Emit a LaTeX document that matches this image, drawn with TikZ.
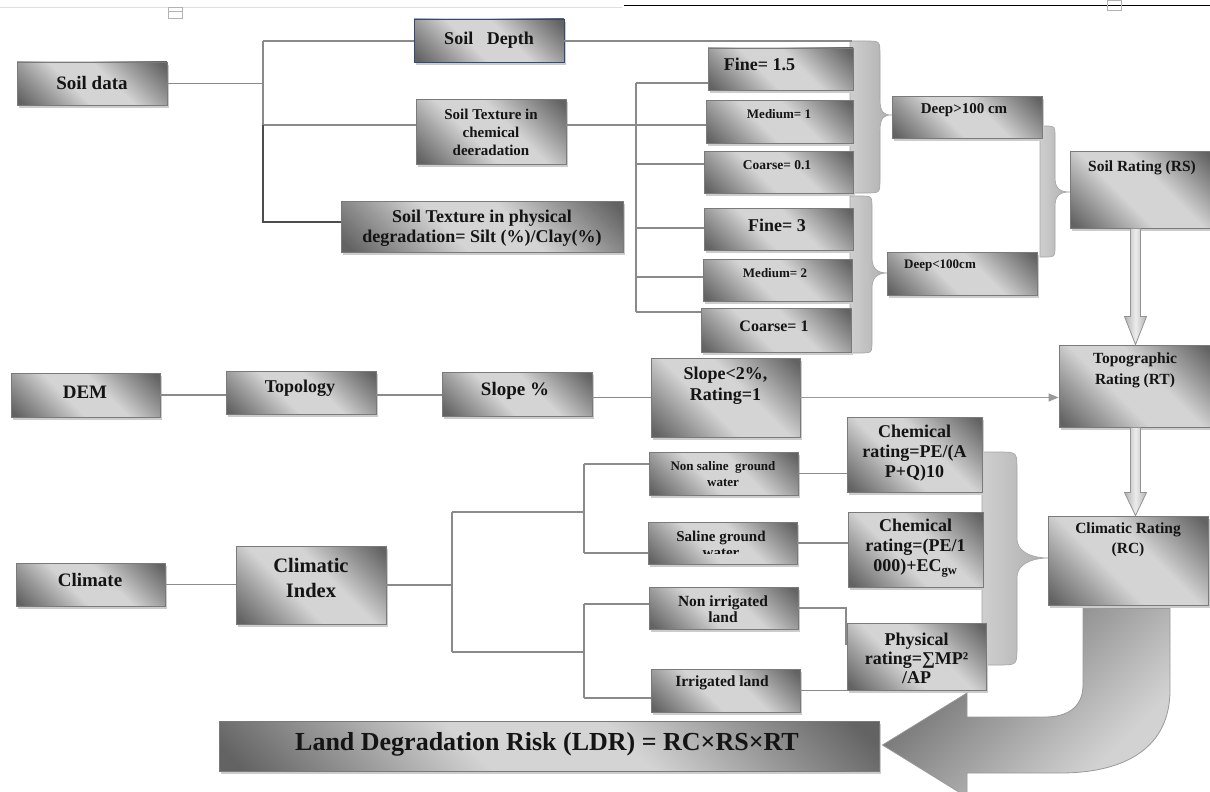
\documentclass[tikz,border=0pt]{standalone}
\usepackage{fontspec}
\setmainfont{Liberation Serif}
\usetikzlibrary{calc,shadows,arrows.meta}
\definecolor{gdark}{HTML}{636363}
\definecolor{gmid}{HTML}{9C9C9C}
\definecolor{glight}{HTML}{D4D4D4}
\definecolor{bgray}{HTML}{7A7A7A}
\definecolor{lgray}{HTML}{8A8A8A}
\definecolor{navyb}{HTML}{2E4A78}
\definecolor{blight}{HTML}{D2D2D2}
\definecolor{bdark}{HTML}{6A6A6A}
\pgfdeclareverticalshading{boxshade}{100bp}{color(0bp)=(gdark); color(17bp)=(gdark); color(30bp)=(gmid); color(42bp)=(glight); color(58bp)=(glight); color(70bp)=(gmid); color(83bp)=(gdark); color(100bp)=(gdark)}
\pgfdeclareverticalshading{bigsh}{100bp}{color(0bp)=(blight); color(30bp)=(blight); color(72bp)=(bdark); color(100bp)=(bdark)}
\newcommand\fz[2]{\fontsize{#1}{#2}\selectfont\bfseries}
\newcommand\bracepath[8]{(#1,#4) -- ({#2-#7},#4) .. controls (#2,#4) .. (#2,{#4+#7}) -- (#2,{#5-#8}) .. controls (#2,{#5-2}) and ({#3-8},#5) .. (#3,#5) .. controls ({#3-8},#5) and (#2,{#5+2}) .. (#2,{#5+#8}) -- (#2,{#6-#7}) .. controls (#2,#6) .. ({#2-#7},#6) -- (#1,#6) -- cycle}
\begin{document}
\begin{tikzpicture}[x=1pt,y=-1pt,
 bx/.style={draw=bgray, line width=0.9pt, shade, shading=boxshade, shading angle=-45, inner sep=0pt, drop shadow={shadow xshift=2pt, shadow yshift=-3pt, fill=black!20, opacity=1}},
 tx/.style={align=center, inner sep=0pt, text=black!92},
 ln/.style={draw=lgray, line width=1.1pt},
 dln/.style={draw=black!70, line width=1.1pt},
 brc/.style={draw=gray!72, line width=0.6pt, left color=gray!38, right color=gray!64},
 barrow/.style={draw=gray!85, line width=0.8pt, left color=gray!60, right color=gray!60, middle color=gray!15},
]
\useasboundingbox (0,0) rectangle (1210,792);
% page artefacts
\draw[gray!25, line width=0.8pt] (0,7) -- (622,7);
\draw[black, line width=0.9pt] (624,5) -- (1210,5);
\draw[gray!60, line width=0.6pt] (168,7) rectangle (182,18);
\draw[gray!60, line width=0.6pt] (168,11) -- (182,11);
\draw[gray!60, line width=0.6pt] (1107,0) rectangle (1121,10);

% braces
\draw[brc] \bracepath{850}{880}{892}{41}{115}{193}{14}{16};
\draw[brc] \bracepath{850}{872}{888}{196}{273}{353}{12}{15};
\draw[brc] \bracepath{1040}{1055}{1070}{126}{192}{257}{10}{14};
\draw[brc] \bracepath{982}{1017}{1048}{452}{558}{665}{18}{20};

% boxes
\node[bx, minimum width=150pt, minimum height=43pt] (sdata) at (92,83.5) {};
\node[bx, draw=navyb, minimum width=150pt, minimum height=43pt] (sdepth) at (489,40.5) {};
\node[bx, minimum width=150pt, minimum height=65pt] (schem) at (491,131.5) {};
\node[bx, minimum width=282pt, minimum height=51pt] (sphys) at (482,226.5) {};
\node[bx, minimum width=145pt, minimum height=42pt] (f15) at (780.5,69) {};
\node[bx, minimum width=147pt, minimum height=43pt] (m1) at (779.5,121.5) {};
\node[bx, minimum width=149pt, minimum height=42pt] (c01) at (778.5,172) {};
\node[bx, minimum width=149pt, minimum height=42pt] (f3) at (778.5,229) {};
\node[bx, minimum width=149pt, minimum height=42pt] (m2) at (777.5,280) {};
\node[bx, minimum width=150pt, minimum height=44pt] (c1) at (776,330) {};
\node[bx, minimum width=150pt, minimum height=42pt] (d100) at (967,117) {};
\node[bx, minimum width=150pt, minimum height=43pt] (dl100) at (962,273.5) {};
\node[bx, minimum width=142pt, minimum height=77pt] (rs) at (1141,189.5) {};
\node[bx, minimum width=149pt, minimum height=44pt] (dem) at (85.5,395) {};
\node[bx, minimum width=150pt, minimum height=43pt] (topo) at (301,392.5) {};
\node[bx, minimum width=150pt, minimum height=44pt] (slope) at (517,394) {};
\node[bx, minimum width=149pt, minimum height=79pt] (s2) at (725.5,397.5) {};
\node[bx, minimum width=153pt, minimum height=82pt] (rt) at (1135.5,386) {};
\node[bx, minimum width=149pt, minimum height=43pt] (climate) at (90.5,584.5) {};
\node[bx, minimum width=150pt, minimum height=78pt] (cindex) at (311,585) {};
\node[bx, minimum width=149pt, minimum height=43pt] (nsal) at (723.5,473.5) {};
\node[bx, minimum width=149pt, minimum height=42pt] (sal) at (722.5,543) {};
\node[bx, minimum width=149pt, minimum height=42pt] (nirr) at (723.5,608) {};
\node[bx, minimum width=149pt, minimum height=43pt] (irr) at (725.5,690.5) {};
\node[bx, minimum width=135pt, minimum height=75pt] (chem1) at (914.5,454.5) {};
\node[bx, minimum width=135pt, minimum height=75pt] (chem2) at (915.5,549.5) {};
\node[bx, minimum width=139pt, minimum height=67pt] (phys) at (916.5,656.5) {};
\node[bx, minimum width=160pt, minimum height=89pt] (rc) at (1128,560.5) {};
\node[bx, minimum width=660pt, minimum height=50pt] (ldr) at (549,746) {};

% junction coordinates
\coordinate (j1) at (263,41);
\coordinate (j2) at (263,125);
\coordinate (j3) at (263,222);
\coordinate (bt1) at (852,41);
\coordinate (k1) at (636,83);
\coordinate (k3) at (636,164);
\coordinate (k4) at (636,228);
\coordinate (k5) at (636,277);
\coordinate (k6) at (636,312);
\coordinate (c1a) at (452,512);
\coordinate (c1b) at (452,652);
\coordinate (c2a) at (584,464);
\coordinate (c2b) at (584,553);
\coordinate (c2c) at (584,604);
\coordinate (c2d) at (584,698);
\coordinate (p1) at (846,645);

% soil connectors
\draw[ln] (sdata.east) -- (sdata.east -| j1);
\draw[ln] (j1) -- (j2);
\draw[ln] (j1) -- (j1 -| sdepth.west);
\draw[ln] (sdepth.east |- j1) -- (bt1);
\draw[ln] (j2) -- (j2 -| schem.west);
\draw[ln] (j2 -| schem.east) -- (j2 -| m1.west);
\draw[dln] (j2) -- (j3) -- (j3 -| sphys.west);
\draw[ln] (k1) -- (k6);
\draw[ln] (k1) -- (k1 -| f15.west);
\draw[ln] (k3) -- (k3 -| c01.west);
\draw[ln] (k4) -- (k4 -| f3.west);
\draw[ln] (k5) -- (k5 -| m2.west);
\draw[ln] (k6) -- (k6 -| c1.west);
% DEM row
\draw[ln] (dem.east) -- (dem.east -| topo.west);
\draw[ln] (topo.east |- dem.east) -- (slope.west |- dem.east);
\draw[ln] (slope.east |- s2.west) -- (s2.west);
\draw[ln, -{Triangle[width=8pt,length=10pt]}, draw=gray!80, fill=gray!80] (s2.east) -- (s2.east -| rt.west);
% climate row
\draw[ln] (climate.east) -- (climate.east -| cindex.west);
\draw[ln] (cindex.east) -- (cindex.east -| c1a);
\draw[ln] (c1a) -- (c1b);
\draw[ln] (c1a) -- (c1a -| c2a);
\draw[ln] (c1b) -- (c1b -| c2c);
\draw[ln] (c2a) -- (c2b);
\draw[ln] (c2c) -- (c2d);
\draw[ln] (c2a) -- (c2a -| nsal.west);
\draw[ln] (c2b) -- (c2b -| sal.west);
\draw[ln] (c2c) -- (c2c -| nirr.west);
\draw[ln] (c2d) -- (c2d -| irr.west);
\draw[ln] (nsal.east) -- (nsal.east -| chem1.west);
\draw[ln] (sal.east) -- (sal.east -| chem2.west);
\draw[ln] (nirr.east) -| (p1);
\draw[ln] (irr.east) -- (irr.east -| phys.west);

% texts
\node[tx, font=\fz{19}{21}] (sdata-t) at (92,83) {Soil data};
\node[tx, font=\fz{18}{20}] (sdepth-t) at (489,40) {Soil\ \ \ Depth};
\node[tx, font=\fz{15}{18}] (schem-t) at (491,132) {Soil Texture in\\chemical\\deeradation};
\node[tx, font=\fz{18}{20}] (sphys-t) at (482,228) {Soil Texture in physical\\degradation= Silt (\%)/Clay(\%)};
\node[tx, font=\fz{18}{20}] (f15-t) at (759.5,64) {Fine= 1.5};
\node[tx, font=\fz{13}{15}] (m1-t) at (779,114) {Medium= 1};
\node[tx, font=\fz{13.5}{15}] (c01-t) at (777,165) {Coarse= 0.1};
\node[tx, font=\fz{18}{20}] (f3-t) at (777,225) {Fine= 3};
\node[tx, font=\fz{13}{15}] (m2-t) at (775,273) {Medium= 2};
\node[tx, font=\fz{16}{18}] (c1-t) at (774,326) {Coarse= 1};
\node[tx, font=\fz{15}{17}] (d100-t) at (964,110) {Deep>100 cm};
\node[tx, font=\fz{13}{15}] (dl100-t) at (940,266) {Deep<100cm};
\node[tx, font=\fz{15.5}{18}] (rs-t) at (1142,168) {Soil Rating (RS)};
\node[tx, font=\fz{19}{21}] (dem-t) at (85,392) {DEM};
\node[tx, font=\fz{18}{20}] (topo-t) at (300,388) {Topology};
\node[tx, font=\fz{19}{21}] (slope-t) at (515,391) {Slope \%};
\node[tx, font=\fz{18}{21}] (s2-t) at (725.5,385.5) {Slope<2\%,\\Rating=1};
\node[tx, font=\fz{15.5}{21}] (rt-t) at (1135,370.5) {Topographic\\Rating (RT)};
\node[tx, font=\fz{19}{21}] (climate-t) at (90,580) {Climate};
\node[tx, font=\fz{20.5}{25}] (cindex-t) at (311,577.5) {Climatic\\Index};
\node[tx, font=\fz{13}{16}] (nsal-t) at (723,474) {Non saline\ \ ground\\water};
\begin{scope}
\clip (640,515) rectangle (800,553);
\node[tx, font=\fz{15}{16}] (sal-t) at (721,544) {Saline ground\\water};
\end{scope}
\node[tx, font=\fz{15.5}{16}] (nirr-t) at (723,609) {Non irrigated\\land};
\node[tx, font=\fz{15.5}{18}] (irr-t) at (722,683) {Irrigated land};
\node[tx, font=\fz{18}{20}] (chem1-t) at (914.5,453) {Chemical\\rating=PE/(A\\P+Q)10};
\node[tx, font=\fz{18}{20}] (chem2-t) at (915.5,548) {Chemical\\rating=(PE/1\\000)+EC\textsubscript{gw}};
\node[tx, font=\fz{18}{19}] (phys-t) at (916.5,658) {Physical\\rating=∑MP²\\/AP};
\node[tx, font=\fz{15.5}{20}] (rc-t) at (1128,540) {Climatic Rating\\(RC)};
\node[tx, font=\fz{26}{28}] (ldr-t) at (547,744) {Land Degradation Risk (LDR) = RC×RS×RT};

% block arrows
\draw[barrow] ($(rt.north |- rs.south)+(-5,0)$) -- ($(rt.north)+(-5,-28)$) -- ($(rt.north)+(-11,-28)$) -- (rt.north) -- ($(rt.north)+(11,-28)$) -- ($(rt.north)+(5,-28)$) -- ($(rt.north |- rs.south)+(5,0)$) -- cycle;
\draw[barrow] ($(rt.south)+(-5,0)$) -- ($(rt.south |- rc.north)+(-5,-23)$) -- ($(rt.south |- rc.north)+(-11,-23)$) -- (rt.south |- rc.north) -- ($(rt.south |- rc.north)+(11,-23)$) -- ($(rt.south |- rc.north)+(5,-23)$) -- ($(rt.south)+(5,0)$) -- cycle;

% big U-turn arrow
\coordinate (ua) at ($(rc.south)+(-45,3)$);
\coordinate (ub) at ($(rc.south)+(42,3)$);
\coordinate (utip) at ($(ldr.east)+(3,-1)$);
\path[draw=gray!80, line width=0.8pt, shade, shading=bigsh, shading angle=45]
 (ua) -- (ub) -- (1170,690) .. controls (1170,748) and (1125,773) .. (1060,773) -- (967,773) -- (967,797) -- (utip) -- (967,693) -- (967,717) -- (1045,717) .. controls (1070,717) and (1083,705) .. (1083,685) -- cycle;
\end{tikzpicture}
\end{document}
